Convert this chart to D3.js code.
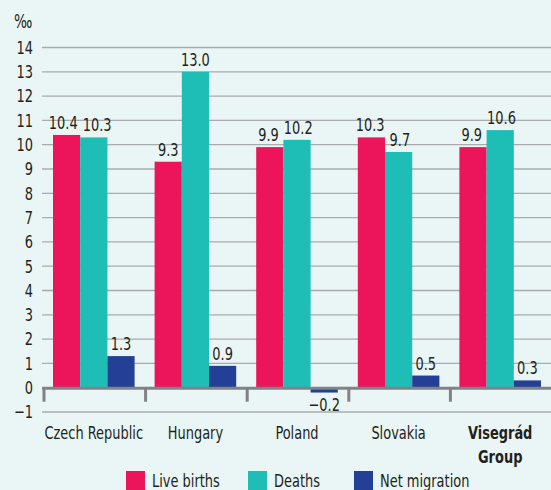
<!DOCTYPE html>
<html>
<head>
<meta charset="utf-8">
<script src="https://cdn.jsdelivr.net/npm/d3@7"></script>
<style>
    body { margin: 0; background: #eaf5f5; }
    svg { display: block; font-family: 'Liberation Sans Narrow', 'DejaVu Sans Condensed', sans-serif; }
</style>
</head>
<body>
<svg id="chart"></svg>
<script>
const categories = ['Czech Republic', 'Hungary', 'Poland', 'Slovakia', 'Visegrád Group'];
const series = ['Live births', 'Deaths', 'Net migration'];
const liveBirths = [10.4, 9.3, 9.9, 10.3, 9.9];
const deaths = [10.3, 13.0, 10.2, 9.7, 10.6];
const netMigration = [1.3, 0.9, -0.2, 0.5, 0.3];
const yTicks = [-1, 0, 1, 2, 3, 4, 5, 6, 7, 8, 9, 10, 11, 12, 13, 14];
const colors = ['#ec145a', '#1ebdb6', '#233f96'];

const width = 551;
const height = 490;
const values = [liveBirths, deaths, netMigration];

// squeeze the glyphs so the fallback font looks like the narrow original
function condense(selection) {
    selection.each(function() {
        const len = this.getComputedTextLength();
        d3.select(this)
            .attr('textLength', len * 0.8)
            .attr('lengthAdjust', 'spacingAndGlyphs');
    });
}

const chart = d3.select('#chart')
    .attr('width', width)
    .attr('height', height);

const x = d3.scaleBand()
    .domain(categories)
    .range([43, 551])
    .paddingInner(0)
    .paddingOuter(0);

const x1 = d3.scaleBand()
    .domain(series)
    .range([10, x.bandwidth() - 10]);

const y = d3.scaleLinear()
    .domain([-1, 14])
    .range([412, 47.5]);

// gridlines
chart.append('g')
    .selectAll('line')
    .data(yTicks.filter(function(d) { return d !== 0; }))
    .enter()
    .append('line')
    .attr('x1', 42)
    .attr('x2', width)
    .attr('y1', function(d) { return y(d); })
    .attr('y2', function(d) { return y(d); })
    .attr('stroke', '#a9abad')
    .attr('stroke-width', 1.3);

// y tick labels
chart.append('g')
    .selectAll('text')
    .data(yTicks)
    .enter()
    .append('text')
    .attr('x', 33)
    .attr('y', function(d) { return y(d); })
    .attr('dy', '.35em')
    .attr('text-anchor', 'end')
    .attr('font-size', 18)
    .attr('fill', '#231f20')
    .text(function(d) { return d < 0 ? '\u2212' + Math.abs(d) : d; })
    .call(condense);

chart.append('text')
    .attr('x', 14)
    .attr('y', 28)
    .attr('font-size', 19)
    .attr('fill', '#231f20')
    .text('‰')
    .call(condense);

// bars
const group = chart.append('g')
    .selectAll('g')
    .data(categories)
    .enter()
    .append('g')
    .attr('transform', function(d) { return 'translate(' + x(d) + ',0)'; });

series.forEach(function(s, si) {
    group.append('rect')
        .attr('x', x1(s))
        .attr('width', x1.bandwidth())
        .attr('y', function(d, i) { return y(Math.max(0, values[si][i])); })
        .attr('height', function(d, i) { return Math.abs(y(values[si][i]) - y(0)); })
        .attr('fill', colors[si]);
});

series.forEach(function(s, si) {
    group.append('text')
        .attr('class', 'value')
        .attr('x', x1(s) + x1.bandwidth() / 2)
        .attr('y', function(d, i) {
            const v = values[si][i];
            return v < 0 ? y(v) + 18 : y(v) - 6;
        })
        .attr('text-anchor', 'middle')
        .attr('font-size', 18)
        .attr('fill', '#231f20')
        .text(function(d, i) {
            const v = values[si][i];
            return (v < 0 ? '\u2212' : '') + Math.abs(v).toFixed(1);
        })
        .call(condense);
});

// push apart value labels that sit side by side and collide
group.each(function() {
    const labels = d3.select(this).selectAll('text.value').nodes();
    for (let i = 0; i < labels.length - 1; i++) {
        const a = labels[i].getBBox();
        const b = labels[i + 1].getBBox();
        const sameRow = Math.abs(a.y - b.y) < a.height;
        const overlap = a.x + a.width + 5 - b.x;
        if (sameRow && overlap > 0) {
            labels[i].setAttribute('x', +labels[i].getAttribute('x') - overlap / 2);
            labels[i + 1].setAttribute('x', +labels[i + 1].getAttribute('x') + overlap / 2);
        }
    }
});

// zero axis with ticks
chart.append('line')
    .attr('x1', 42)
    .attr('x2', width)
    .attr('y1', y(0) + 0.5)
    .attr('y2', y(0) + 0.5)
    .attr('stroke', '#808285')
    .attr('stroke-width', 3);

chart.append('g')
    .selectAll('line')
    .data(categories)
    .enter()
    .append('line')
    .attr('x1', function(d) { return x(d) + 1; })
    .attr('x2', function(d) { return x(d) + 1; })
    .attr('y1', y(0))
    .attr('y2', y(0) + 14)
    .attr('stroke', '#808285')
    .attr('stroke-width', 3);

// category labels
chart.append('g')
    .selectAll('text')
    .data(categories)
    .enter()
    .append('text')
    .attr('x', function(d) { return x(d) + x.bandwidth() / 2; })
    .attr('y', 439)
    .attr('text-anchor', 'middle')
    .attr('font-size', 18)
    .attr('font-weight', function(d, i) { return i === categories.length - 1 ? 'bold' : 'normal'; })
    .attr('fill', '#231f20')
    .each(function(d, i) {
        const cx = x(d) + x.bandwidth() / 2;
        if (i === categories.length - 1) {
            const parts = d.split(' ');
            d3.select(this).append('tspan')
                .attr('x', cx)
                .text(parts[0]);
            d3.select(this).append('tspan')
                .attr('x', cx)
                .attr('dy', 24)
                .text(parts[1]);
            d3.select(this).selectAll('tspan').call(condense);
        } else {
            d3.select(this).text(d).call(condense);
        }
    });

// legend
const legendX = [126, 248, 354];
const legend = chart.append('g')
    .selectAll('g')
    .data(series)
    .enter()
    .append('g')
    .attr('transform', function(d, i) { return 'translate(' + legendX[i] + ',471)'; });

legend.append('rect')
    .attr('width', 19)
    .attr('height', 19)
    .attr('fill', function(d, i) { return colors[i]; });

legend.append('text')
    .attr('x', 26)
    .attr('y', 16)
    .attr('font-size', 18)
    .attr('fill', '#231f20')
    .text(function(d) { return d; })
    .call(condense);
</script>
</body>
</html>
